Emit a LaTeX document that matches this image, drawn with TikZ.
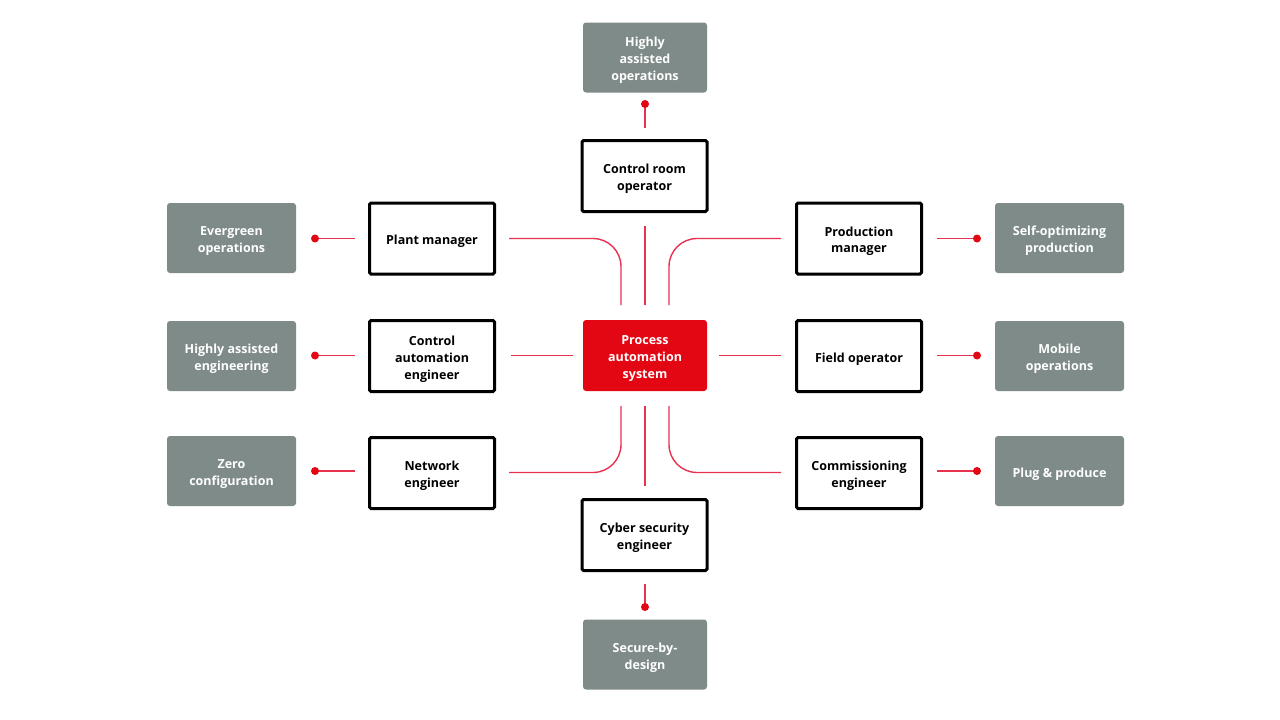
\documentclass[tikz,border=0pt]{standalone}
\usepackage{fontspec}
\setmainfont{Open Sans}
\begin{document}
\begin{tikzpicture}[x=1pt,y=-1pt,
  lbl/.style={align=center, font=\bfseries\fontsize{12.5}{17}\selectfont, inner sep=0pt, yshift=-2.75pt},
  lblw/.style={lbl, text=white},
  outcome/.style={fill=graybox, rounded corners=3pt, minimum width=129pt, minimum height=70pt, inner sep=0pt},
  outcomev/.style={outcome, minimum width=124pt},
  role/.style={draw=black, line width=3pt, rounded corners=1.5pt, fill=white, minimum width=125pt, minimum height=71pt, inner sep=0pt},
  core/.style={fill=abbred, rounded corners=3pt, minimum width=124pt, minimum height=71pt, inner sep=0pt},
  link/.style={draw=linkred, line width=1.4pt},
  dot/.style={circle, fill=abbred, inner sep=0pt, minimum size=8pt}
]
\definecolor{graybox}{HTML}{7F8B89}
\definecolor{abbred}{HTML}{E30613}
\definecolor{linkred}{HTML}{E8304F}
\useasboundingbox (0,0) rectangle (1280,720);
\fill[white] (0,0) rectangle (1280,720);

% core
\node[core, label={[lblw]center:Process\\automation\\system}] (pas) at (645,355.5) {};

% roles
\node[role, label={[lbl]center:Control room\\operator}] (cro) at (644.5,176) {};
\node[role, label={[lbl]center:Cyber security\\engineer}] (cse) at (644.5,535) {};
\node[role, label={[lbl]center:Plant manager}] (pm) at (432,238.5) {};
\node[role, label={[lbl]center:Control\\automation\\engineer}] (cae) at (432,356) {};
\node[role, label={[lbl]center:Network\\engineer}] (ne) at (432,473) {};
\node[role, label={[lbl]center:Production\\manager}] (prm) at (859,238.5) {};
\node[role, label={[lbl]center:Field operator}] (fo) at (859,356) {};
\node[role, label={[lbl]center:Commissioning\\engineer}] (ce) at (859,473) {};

% outcomes
\node[outcomev, label={[lblw]center:Highly\\assisted\\operations}] (hao) at (645,57.5) {};
\node[outcomev, label={[lblw]center:Secure-by-\\design}] (sbd) at (645,654.5) {};
\node[outcome, label={[lblw]center:Evergreen\\operations}] (eo) at (231.5,238) {};
\node[outcome, label={[lblw]center:Highly assisted\\engineering}] (hae) at (231.5,356) {};
\node[outcome, label={[lblw]center:Zero\\configuration}] (zc) at (231.5,471) {};
\node[outcome, label={[lblw]center:Self-optimizing\\production}] (sop) at (1059.5,238) {};
\node[outcome, label={[lblw]center:Mobile\\operations}] (mo) at (1059.5,356) {};
\node[outcome, label={[lblw]center:Plug \& produce}] (pp) at (1059.5,471) {};

% dot coordinates
\coordinate (dhao) at (645,104);
\coordinate (dsbd) at (645,607);
\coordinate (deo) at (315,238.5);
\coordinate (dhae) at (315,355.5);
\coordinate (dzc) at (315,471);
\coordinate (dsop) at (977,238.5);
\coordinate (dmo) at (977,355.5);
\coordinate (dpp) at (977,471);

% role to outcome links
\draw[link] (dhao) -- ++(0,24);
\draw[link] (dsbd) -- ++(0,-23);
\draw[link] (deo) -- ++(40,0);
\draw[link] (dhae) -- ++(40,0);
\draw[link] (dzc) -- ++(40,0);
\draw[link] (dsop) -- ++(-40,0);
\draw[link] (dmo) -- ++(-40,0);
\draw[link] (dpp) -- ++(-40,0);
\foreach \d in {dhao,dsbd,deo,dhae,dzc,dsop,dmo,dpp} \node[dot] at (\d) {};

% central links
\draw[link] (645,226) -- (645,305);
\draw[link] (645,406) -- (645,486);
\draw[link] (509,238.5) -- (593,238.5) arc[start angle=-90, end angle=0, radius=28] -- (621,305);
\draw[link] (781,238.5) -- (697,238.5) arc[start angle=270, end angle=180, radius=28] -- (669,305);
\draw[link] (509,472.5) -- (593,472.5) arc[start angle=90, end angle=0, radius=28] -- (621,406);
\draw[link] (781,472.5) -- (697,472.5) arc[start angle=90, end angle=180, radius=28] -- (669,406);
\draw[link] (511,355.5) -- (573,355.5);
\draw[link] (719,355.5) -- (781,355.5);
\end{tikzpicture}
\end{document}
